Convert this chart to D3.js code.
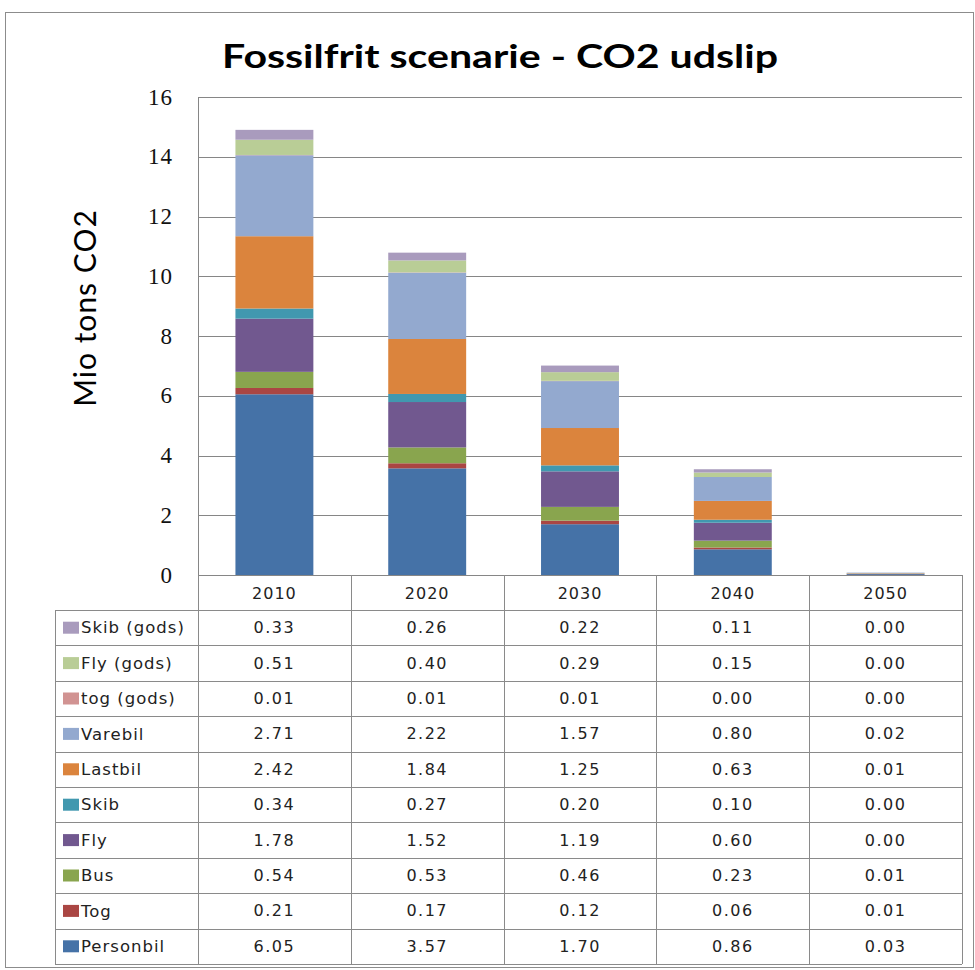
<!DOCTYPE html>
<html>
<head>
<meta charset="utf-8">
<script src="https://cdn.jsdelivr.net/npm/d3@7"></script>
<style>
  body { margin: 0; background: #fff; }
</style>
</head>
<body>
<div id="chart"></div>
<script>
// years along the x axis
const years = ["2010", "2020", "2030", "2040", "2050"];

// series, bottom of stack first
const seriesNames = ["Personbil", "Tog", "Bus", "Fly", "Skib", "Lastbil", "Varebil", "tog (gods)", "Fly (gods)", "Skib (gods)"];
const personbil = [6.05, 3.57, 1.70, 0.86, 0.03];
const tog       = [0.21, 0.17, 0.12, 0.06, 0.01];
const bus       = [0.54, 0.53, 0.46, 0.23, 0.01];
const fly       = [1.78, 1.52, 1.19, 0.60, 0.00];
const skib      = [0.34, 0.27, 0.20, 0.10, 0.00];
const lastbil   = [2.42, 1.84, 1.25, 0.63, 0.01];
const varebil   = [2.71, 2.22, 1.57, 0.80, 0.02];
const togGods   = [0.01, 0.01, 0.01, 0.00, 0.00];
const flyGods   = [0.51, 0.40, 0.29, 0.15, 0.00];
const skibGods  = [0.33, 0.26, 0.22, 0.11, 0.00];
const yTicks = [0, 2, 4, 6, 8, 10, 12, 14, 16];

const seriesValues = [personbil, tog, bus, fly, skib, lastbil, varebil, togGods, flyGods, skibGods];
const colors = ["#4572A7", "#AA4643", "#89A54E", "#71588F", "#4198AF", "#DB843D", "#93A9CF", "#D19392", "#B9CD96", "#A99BBD"];

const W = 975, H = 970;
const plot = {left: 198, right: 962, top: 97, bottom: 575};
const rowH = 35.4;
const headerH = 35;
const tableLeft = 55;
const tableFont = "'DejaVu Sans', Verdana, sans-serif";

const svg = d3.select("#chart").append("svg")
    .attr("width", W)
    .attr("height", H)
    .attr("font-family", "Lato, 'Open Sans', sans-serif");

svg.append("rect").attr("width", W).attr("height", H).attr("fill", "#fff");

// outer frame
svg.append("rect")
    .attr("x", 5.5).attr("y", 12.5)
    .attr("width", 968).attr("height", 955)
    .attr("fill", "none")
    .attr("stroke", "#8c8c8c");

// title
svg.append("text")
    .attr("x", 500).attr("y", 68)
    .attr("text-anchor", "middle")
    .attr("font-size", "32px")
    .attr("font-weight", "bold")
    .attr("textLength", 556)
    .attr("lengthAdjust", "spacingAndGlyphs")
    .attr("fill", "#000")
    .text("Fossilfrit scenarie - CO2 udslip");

const x = d3.scaleBand()
    .domain(years)
    .range([plot.left, plot.right]);

const y = d3.scaleLinear()
    .domain([0, 16])
    .range([plot.bottom, plot.top]);

// gridlines
svg.append("g")
    .selectAll("line")
    .data(yTicks)
    .join("line")
    .attr("x1", plot.left).attr("x2", plot.right)
    .attr("y1", d => Math.round(y(d)) + 0.5)
    .attr("y2", d => Math.round(y(d)) + 0.5)
    .attr("stroke", "#868686")
    .attr("stroke-width", 1);

// y axis line
svg.append("line")
    .attr("x1", plot.left + 0.5).attr("x2", plot.left + 0.5)
    .attr("y1", plot.top).attr("y2", plot.bottom)
    .attr("stroke", "#868686");

// y tick labels
svg.append("g")
    .selectAll("text")
    .data(yTicks)
    .join("text")
    .attr("x", 173)
    .attr("y", d => y(d))
    .attr("dy", "0.33em")
    .attr("text-anchor", "end")
    .attr("font-family", "'Liberation Serif', serif")
    .attr("font-size", "23px")
    .attr("letter-spacing", "1px")
    .attr("fill", "#111")
    .text(d => d);

// y axis title
svg.append("text")
    .attr("transform", `translate(96, 308) rotate(-90)`)
    .attr("text-anchor", "middle")
    .attr("font-size", "30px")
    .attr("letter-spacing", "1px")
    .attr("fill", "#000")
    .text("Mio tons CO2");

// stacked data
const tableData = years.map((yr, i) => {
    const row = {year: yr};
    seriesNames.forEach((s, j) => row[s] = seriesValues[j][i]);
    return row;
});
const stacked = d3.stack().keys(seriesNames)(tableData);

const barW = x.bandwidth() * 0.51;
svg.append("g")
    .selectAll("g")
    .data(stacked)
    .join("g")
    .attr("fill", (d, i) => colors[i])
    .selectAll("rect")
    .data(d => d)
    .join("rect")
    .attr("x", d => x(d.data.year) + (x.bandwidth() - barW) / 2)
    .attr("y", d => y(d[1]))
    .attr("width", barW)
    .attr("height", d => Math.max(0, y(d[0]) - y(d[1])));

// data table
const table = svg.append("g").attr("class", "data-table");
const tableTop = plot.bottom;
const rowsTop = tableTop + headerH;
const nRows = seriesNames.length;
const tableBottom = rowsTop + nRows * rowH;
const lineColor = "#8a8a8a";

// horizontal lines
const hLines = d3.range(nRows + 1).map(i => rowsTop + i * rowH);
table.selectAll(".hline")
    .data(hLines)
    .join("line")
    .attr("class", "hline")
    .attr("x1", tableLeft).attr("x2", plot.right)
    .attr("y1", d => Math.round(d) + 0.5).attr("y2", d => Math.round(d) + 0.5)
    .attr("stroke", lineColor);

// vertical lines
const vLines = years.map(yr => x(yr)).concat([plot.right]);
table.selectAll(".vline")
    .data(vLines)
    .join("line")
    .attr("class", "vline")
    .attr("x1", d => Math.round(d) + 0.5).attr("x2", d => Math.round(d) + 0.5)
    .attr("y1", tableTop).attr("y2", tableBottom)
    .attr("stroke", lineColor);

table.append("line")
    .attr("x1", tableLeft + 0.5).attr("x2", tableLeft + 0.5)
    .attr("y1", rowsTop).attr("y2", tableBottom)
    .attr("stroke", lineColor);

// header years
table.selectAll(".year")
    .data(years)
    .join("text")
    .attr("class", "year")
    .attr("x", d => x(d) + x.bandwidth() / 2)
    .attr("y", tableTop + headerH / 2 + 1)
    .attr("dy", "0.35em")
    .attr("text-anchor", "middle")
    .attr("font-family", tableFont)
    .attr("font-size", "16px")
    .attr("letter-spacing", "1px")
    .attr("fill", "#222")
    .text(d => d);

// rows, top series first
const rowOrder = d3.range(nRows).reverse();
const rows = table.selectAll(".row")
    .data(rowOrder)
    .join("g")
    .attr("class", "row")
    .attr("transform", (j, r) => `translate(0, ${rowsTop + r * rowH})`);

rows.append("rect")
    .attr("x", tableLeft + 8)
    .attr("y", rowH / 2 - 6)
    .attr("width", 16).attr("height", 12)
    .attr("fill", j => colors[j]);

rows.append("text")
    .attr("x", tableLeft + 26)
    .attr("y", rowH / 2)
    .attr("dy", "0.35em")
    .attr("font-family", tableFont)
    .attr("font-size", "16.5px")
    .attr("letter-spacing", "1px")
    .attr("fill", "#222")
    .text(j => seriesNames[j]);

rows.selectAll(".val")
    .data(j => seriesValues[j].map((v, i) => ({v, year: years[i]})))
    .join("text")
    .attr("class", "val")
    .attr("x", d => x(d.year) + x.bandwidth() / 2)
    .attr("y", rowH / 2)
    .attr("dy", "0.35em")
    .attr("text-anchor", "middle")
    .attr("font-family", tableFont)
    .attr("font-size", "16px")
    .attr("letter-spacing", "1.5px")
    .attr("fill", "#222")
    .text(d => d.v.toFixed(2));
</script>
</body>
</html>
